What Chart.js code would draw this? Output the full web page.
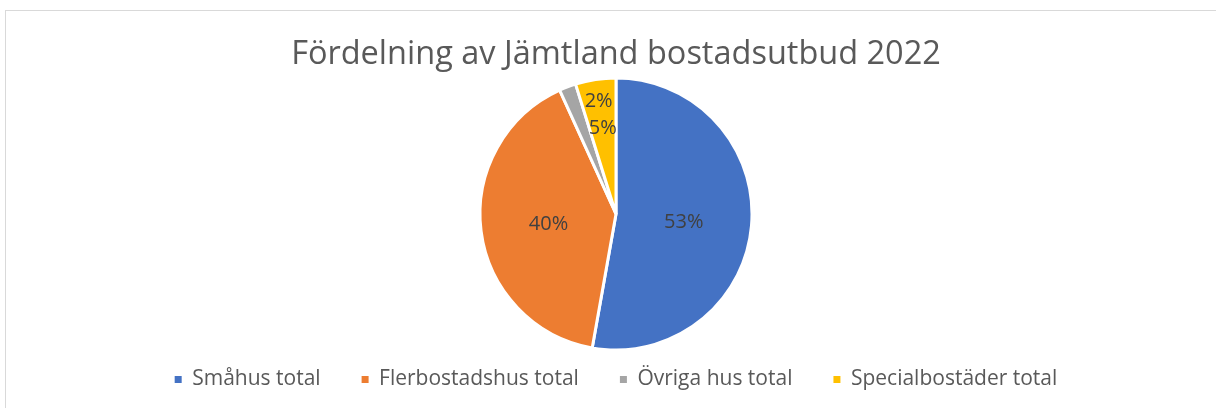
<!DOCTYPE html>
<html>
<head>
<meta charset="utf-8">
<script src="https://cdn.jsdelivr.net/npm/chart.js@4.4.1/dist/chart.umd.min.js"></script>
<style>
  html, body { margin: 0; padding: 0; background: #ffffff; overflow: hidden; }
  #wrap { position: relative; width: 1216px; height: 408px; overflow: hidden; }
  #frame { position: absolute; left: 5px; top: 10px; width: 1240px; height: 420px; border: 1px solid #d9d9d9; box-sizing: border-box; }
  #c { position: absolute; left: 0; top: 0; }
</style>
</head>
<body>
<div id="wrap">
  <div id="frame"></div>
  <canvas id="c" width="1216" height="408"></canvas>
</div>
<script>
const titleText = "Fördelning av Jämtland bostadsutbud 2022";
const categories = ["Småhus total", "Flerbostadshus total", "Övriga hus total", "Specialbostäder total"];
const shares = [52.8, 40.4, 2.0, 4.8];
const colors = ["#4472c4", "#ed7d31", "#a5a5a5", "#ffc000"];
// label placement: which slice's mid-angle to use and fraction of radius
const labelSlice = [0, 1, 3, 3];
const labelFrac = [0.5, 0.5, 0.85, 0.65];

const FONT = "'Open Sans', Lato, sans-serif";

const pctLabels = {
  id: 'pctLabels',
  afterDatasetsDraw(chart) {
    const ctx = chart.ctx;
    const meta = chart.getDatasetMeta(0);
    const total = shares.reduce((a, b) => a + b, 0);
    ctx.save();
    ctx.font = "20px " + FONT;
    ctx.fillStyle = "#404040";
    ctx.textAlign = "center";
    ctx.textBaseline = "middle";
    meta.data.forEach((arc, i) => {
      const ref = meta.data[labelSlice[i]];
      const p = ref.getProps(['x', 'y', 'startAngle', 'endAngle', 'outerRadius'], true);
      const mid = (p.startAngle + p.endAngle) / 2;
      const r = p.outerRadius * labelFrac[i];
      const txt = Math.round(shares[i] / total * 100) + "%";
      ctx.fillText(txt, p.x + Math.cos(mid) * r, p.y + Math.sin(mid) * r + 2);
    });
    ctx.restore();
  }
};

new Chart(document.getElementById('c'), {
  type: 'pie',
  data: {
    labels: categories,
    datasets: [{
      data: shares,
      backgroundColor: colors,
      borderColor: "#ffffff",
      borderWidth: 3,
      clip: false
    }]
  },
  options: {
    responsive: false,
    animation: false,
    radius: 136,
    layout: { padding: { left: 16, right: 0, top: 0, bottom: 8 } },
    plugins: {
      tooltip: { enabled: false },
      title: {
        display: true,
        text: titleText,
        color: "#595959",
        font: { family: FONT, size: 32.5, weight: 'normal' },
        padding: { top: 35, bottom: 26 }
      },
      legend: {
        position: 'bottom',
        labels: {
          color: "#595959",
          font: { family: FONT, size: 21 },
          boxWidth: 7,
          boxHeight: 7,
          padding: 41,
          generateLabels(chart) {
            return categories.map((name, i) => ({
              text: name,
              fillStyle: colors[i],
              strokeStyle: colors[i],
              lineWidth: 0,
              hidden: false,
              index: i,
              fontColor: "#595959"
            }));
          }
        }
      }
    }
  },
  plugins: [pctLabels]
});
</script>
</body>
</html>
